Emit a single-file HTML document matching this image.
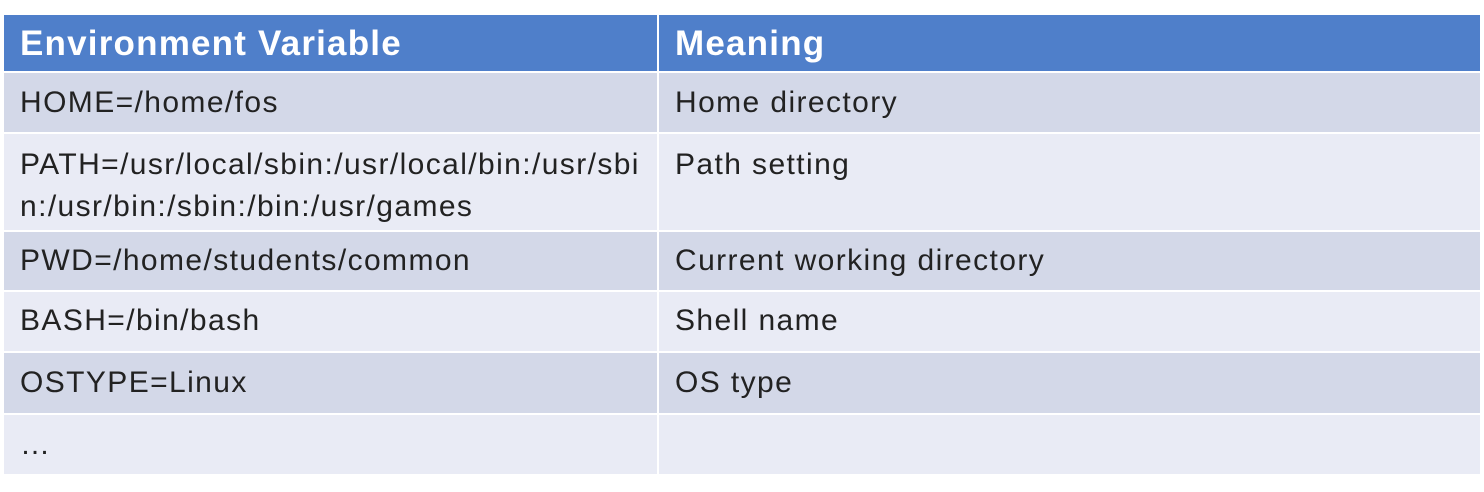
<!DOCTYPE html>
<html><head><style>
html,body{margin:0;padding:0;background:#fff;width:1484px;height:492px;overflow:hidden}
.c{position:absolute;box-sizing:border-box;font-family:"Liberation Sans",sans-serif;color:#222;font-size:30px;letter-spacing:1.4px;line-height:42px;padding-left:16px;white-space:nowrap}
.h{background:#4f7fca;color:#fff;font-weight:bold;font-size:35px;letter-spacing:1.2px;line-height:58px;}
.d{background:#d3d8e8}
.l{background:#e9ebf5}
</style></head><body>
<div class="c h" style="left:4px;top:15px;width:653px;height:56px;">Environment Variable</div>
<div class="c h" style="left:659px;top:15px;width:821px;height:56px;">Meaning</div>

<div class="c d" style="left:4px;top:73px;width:653px;height:59px;padding-top:9px">HOME=/home/fos</div>
<div class="c d" style="left:659px;top:73px;width:821px;height:59px;padding-top:9px">Home directory</div>

<div class="c l" style="left:4px;top:134px;width:653px;height:96px;padding-top:10px">PATH=/usr/local/sbin:/usr/local/bin:/usr/sbi<br>n:/usr/bin:/sbin:/bin:/usr/games</div>
<div class="c l" style="left:659px;top:134px;width:821px;height:96px;padding-top:10px">Path setting</div>

<div class="c d" style="left:4px;top:232px;width:653px;height:58px;padding-top:8px">PWD=/home/students/common</div>
<div class="c d" style="left:659px;top:232px;width:821px;height:58px;padding-top:8px">Current working directory</div>

<div class="c l" style="left:4px;top:292px;width:653px;height:59px;padding-top:8px">BASH=/bin/bash</div>
<div class="c l" style="left:659px;top:292px;width:821px;height:59px;padding-top:8px">Shell name</div>

<div class="c d" style="left:4px;top:353px;width:653px;height:60px;padding-top:9px">OSTYPE=Linux</div>
<div class="c d" style="left:659px;top:353px;width:821px;height:60px;padding-top:9px">OS type</div>

<div class="c l" style="left:4px;top:415px;width:653px;height:59px;padding-top:9px">…</div>
<div class="c l" style="left:659px;top:415px;width:821px;height:59px;"></div>
</body></html>
